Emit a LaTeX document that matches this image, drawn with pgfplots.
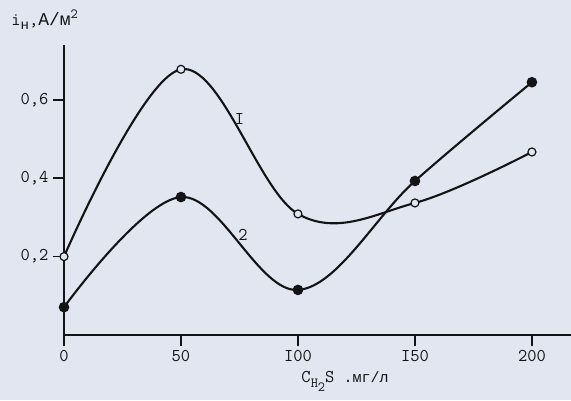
\documentclass[border=0pt]{standalone}
\usepackage{pgfplots}
\pgfplotsset{compat=1.18}
\usepackage{fontspec}
\newfontfamily\cyr{Liberation Mono}
\definecolor{paper}{RGB}{226,230,240}
\definecolor{ink}{RGB}{20,20,22}
\newcommand\lbl{\ttfamily\fontsize{18}{20}\selectfont}
\newcommand\sub{\fontsize{14}{15}\selectfont}
\begin{document}
\begin{tikzpicture}[x=1pt,y=1pt]
\fill[paper] (0,0) rectangle (571,400);
\useasboundingbox (0,0) rectangle (571,400);
\begin{axis}[
  at={(64pt,65pt)}, anchor=origin,
  scale only axis, width=507pt, height=290pt,
  xmin=0, xmax=216.7, ymin=0, ymax=0.74,
  axis lines=left, axis line style={-, ink, line width=2pt},
  xtick={0,50,100,150,200}, xticklabels={0,50,I00,I50,200},
  ytick={0.2,0.4,0.6}, yticklabels={0{,}2,0{,}4,0{,}6},
  tick align=outside, major tick length=11pt,
  tick style={ink, line width=1.5pt},
  ticklabel style={font=\lbl, text=ink},
  yticklabel style={xshift=-1pt},
  xticklabel style={yshift=-1pt},
  clip=false,
]
\addplot[ink, line width=2.1pt, smooth, tension=0.6, mark=*, mark size=4pt,
  mark options={fill=paper, line width=1.2pt}] coordinates {
  (0,0.2) (50,0.678) (100,0.309) (150,0.337) (200,0.467)
};
\addplot[ink, line width=2.1pt, smooth, tension=0.6, mark=*, mark size=4.2pt,
  mark options={fill=ink}] coordinates {
  (0,0.071) (50,0.352) (100,0.115) (150,0.393) (200,0.645)
};
\node[font=\lbl, text=ink] at (axis cs:75,0.55) {I};
\node[font=\lbl, text=ink] at (axis cs:76.5,0.255) {2};
\node[font=\lbl, text=ink, anchor=base west] at (axis cs:-24,0.79)
  {i\raisebox{-4pt}{\sub{\cyr н}},{\cyr А/м}\raisebox{7pt}{\sub 2}};
\node[font=\lbl, text=ink, anchor=base west] at (axis cs:100,-0.122)
  {C\raisebox{-5pt}{\sub H\raisebox{-4pt}{2}}S {\cyr\fontsize{15}{16}\selectfont .мг/л}};
\end{axis}
\end{tikzpicture}
\end{document}
